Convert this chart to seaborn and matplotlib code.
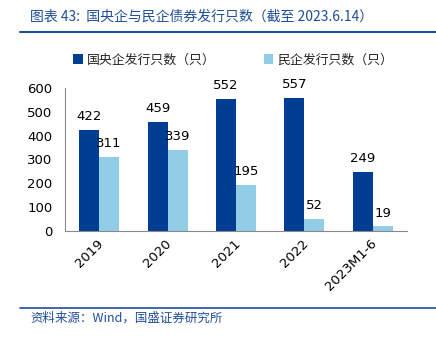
import matplotlib
matplotlib.use("Agg")
import matplotlib.pyplot as plt
import matplotlib.transforms as mtransforms
import seaborn as sns
import pandas as pd
from matplotlib.patches import Patch
from matplotlib.lines import Line2D

categories = ["2019", "2020", "2021", "2022", "2023M1-6"]
soe_counts = [422, 459, 552, 557, 249]
private_counts = [311, 339, 195, 52, 19]
series_names = ["国央企发行只数（只）", "民企发行只数（只）"]
title_text = "图表 43:  国央企与民企债券发行只数（截至 2023.6.14）"
source_text = "资料来源：Wind，国盛证券研究所"

DARK = "#003E94"
LIGHT = "#92CDE6"
BLUE_TXT = "#1F4E9A"

sns.set_theme(style="white")
plt.rcParams['font.family'] = ['DejaVu Sans', 'Noto Sans CJK SC']

df = pd.DataFrame({
    "cat": categories * 2,
    "val": soe_counts + private_counts,
    "series": [series_names[0]] * len(categories) + [series_names[1]] * len(categories),
})

fig = plt.figure(figsize=(4.36, 3.41), dpi=100)
ax = fig.add_axes([65/436, 1 - 231/341, (407 - 65)/436, (231 - 88)/341])

sns.barplot(data=df, x="cat", y="val", hue="series", order=categories,
            hue_order=series_names, palette=[DARK, LIGHT], width=0.585,
            gap=0, saturation=1, ax=ax, legend=False, errorbar=None,
            linewidth=0, edgecolor="none")

for cont in ax.containers:
    ax.bar_label(cont, padding=5, fontsize=9.5, color="black")

ax.set_ylim(0, 600)
ax.set_xlim(-0.5, len(categories) - 0.5)
ax.set_yticks(range(0, 601, 100))
ax.set_xlabel("")
ax.set_ylabel("")
ax.tick_params(axis="y", labelsize=9.5, length=2.5, width=0.8, color="#888888", pad=6.5, labelcolor="black")
ax.tick_params(axis="x", which="major", length=0, labelsize=9.5, pad=4, labelcolor="black")
ax.set_xticks([i - 0.5 for i in range(len(categories) + 1)], minor=True)
ax.tick_params(axis="x", which="minor", length=4, width=0.8, color="#888888", direction="out")
offset = mtransforms.ScaledTranslation(2/100, -5/100, fig.dpi_scale_trans)
for lab in ax.get_xticklabels():
    lab.set_rotation(45)
    lab.set_ha("right")
    lab.set_va("center")
    lab.set_rotation_mode("anchor")
    lab.set_transform(lab.get_transform() + offset)

for s in ["top", "right"]:
    ax.spines[s].set_visible(False)
for s in ["left", "bottom"]:
    ax.spines[s].set_color("#888888")
    ax.spines[s].set_linewidth(0.8)

cjk = ['Noto Sans CJK SC', 'DejaVu Sans']
handles = [Patch(facecolor=DARK, edgecolor="none"), Patch(facecolor=LIGHT, edgecolor="none")]
fig.legend(handles, series_names, loc="center", bbox_to_anchor=(0.535, 1 - 60/341),
           ncol=2, frameon=False, handlelength=0.7, handleheight=0.7, handletextpad=0.3,
           columnspacing=3.8, prop={"family": cjk, "size": 9.3})

fig.text(30/436, 1 - 17/341, title_text, family=cjk, style="italic", fontsize=10,
         color=BLUE_TXT, va="center", ha="left")
fig.add_artist(Line2D([20/436, 1], [1 - 32/341] * 2, color="#1F4E9A", lw=1.5,
                      transform=fig.transFigure))
fig.add_artist(Line2D([20/436, 1], [1 - 308/341] * 2, color="#1F4E9A", lw=1.2,
                      transform=fig.transFigure))
fig.text(30/436, 1 - 318/341, source_text, family=cjk, style="italic", fontsize=9,
         color=BLUE_TXT, va="center", ha="left")

fig.savefig("out.png", dpi=100)
